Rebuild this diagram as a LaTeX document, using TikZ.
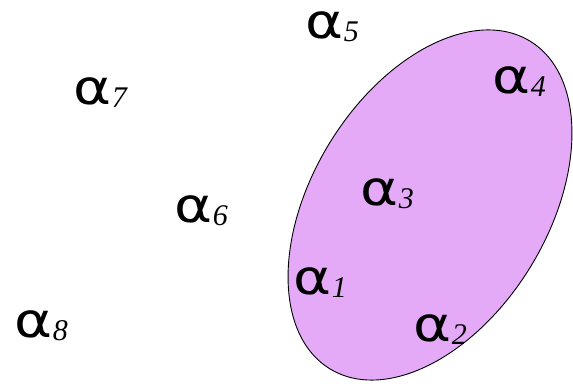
\documentclass[tikz,border=0pt]{standalone}
\usepackage{fontspec}
\newfontfamily\alphafont{DejaVu Sans}
\newfontfamily\digitfont{Liberation Serif}
\definecolor{setfill}{RGB}{229,170,247}
\tikzset{
  lbl/.style={inner sep=0pt, anchor=center, font=\fontsize{48}{48}\selectfont},
  setline/.style={draw=black, line width=0.9pt, fill=setfill}
}
\newcommand{\alab}[1]{{\alphafont\scalebox{1.2}[1]{α}}\kern1pt\raisebox{-3pt}{\digitfont\fontsize{30}{30}\selectfont\itshape #1}}
\begin{document}
\begin{tikzpicture}[x=1pt,y=1pt]
\useasboundingbox (0,0) rectangle (573,383);
\path[setline] (430,178) ellipse[x radius=192, y radius=118, rotate=58.6];
\node[lbl] (a5) at (332,356) {\alab{5}};
\node[lbl] (a4) at (519,301) {\alab{4}};
\node[lbl] (a3) at (387,189) {\alab{3}};
\node[lbl] (a1) at (320,100) {\alab{1}};
\node[lbl] (a2) at (440,53) {\alab{2}};
\node[lbl] (a7) at (100,290) {\alab{7}};
\node[lbl] (a6) at (201,172) {\alab{6}};
\node[lbl] (a8) at (41,57) {\alab{8}};
\end{tikzpicture}
\end{document}
